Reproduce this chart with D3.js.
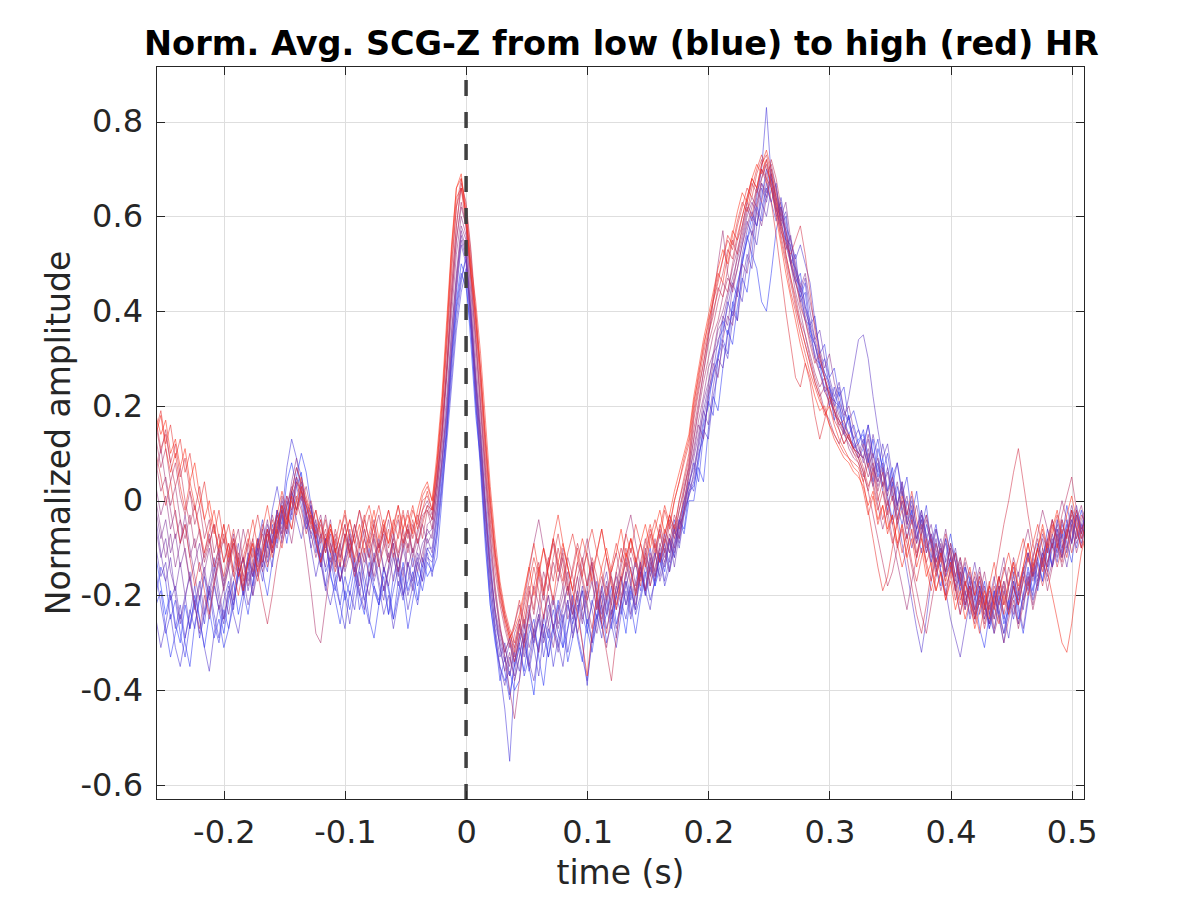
<!DOCTYPE html>
<html>
<head>
<meta charset="utf-8">
<script src="https://cdn.jsdelivr.net/npm/d3@7"></script>
<style>
  html, body { margin: 0; padding: 0; background: #ffffff; }
  svg { display: block; }
  text { font-family: "DejaVu Sans", sans-serif; fill: #262626; }
</style>
</head>
<body>
<svg id="chart" width="1200" height="900"></svg>
<script>
// ---------------- DATA ----------------
// Sample times: first sample and sampling step (s)
const tStart = -0.256;
const tStep = 0.004;
// Amplitudes are stored in hundredths of normalized amplitude
const ampScale = 100;

const trace00 = [-12,-18,-24,-19,-26,-30,-22,-27,-20,-25,-31,-24,-18,-23,-28,-21,-17,-24,-19,-12,-16,-10,-14,-6,-9,-2,-5,4,8,3,6,-3,-1,-9,-14,-8,-16,-19,-13,-21,-17,-12,-20,-24,-15,-19,-22,-14,-18,-25,-20,-13,-19,-15,-21,-12,-16,
 -14,-6,4,16,30,42,50,47,33,18,8,-8,-22,-30,-35,-38,-36,-40,
 -38,-29,-35,-41,-30,-26,-33,-28,-22,-31,-27,-20,-29,-34,-25,-30,-21,-27,-24,-18,-26,-22,-28,-19,-23,-15,-20,-14,-18,-11,-15,-8,-12,-4,-6,2,
 3,8,16,20,27,30,38,35,41,46,50,55,60,58,64,70,66,61,63,55,54,47,45,38,37,30,29,23,24,17,21,14,18,11,13,
 14,8,13,5,9,2,7,-1,4,-5,-2,-8,-4,-11,-7,-13,-10,-16,-12,-19,-15,-22,-18,-25,-21,-17,-24,-28,-20,-26,-23,-18,-25,-20,-14,-19,-12,-17,-9,-14,-6,-11,-4,-9,-2,-7,-3];
const extra00 = [-22,-19,-27,-33,-28,-24,-30,-35,-26,-21,-16,-23,-29,-25,-31,-27,-20,-14,-19,-24,-17,-11,-15,-20,-13,-7,-3,-9,-2,5,10,6,-1,-7,-12,-8,-15,-21,-26,-19,-23,-17,-11,-18,-25,-29,-22,-18,-24,-16,-12,-19,-27,-21,-15,-19,-13,
 -15,-12,0,14,30,41,48,45,36,21,6,-10,-22,-29,-38,-33,-41,-35,
 -31,-36,-28,-25,-33,-39,-30,-27,-21,-26,-34,-29,-24,-19,-27,-32,-25,-22,-30,-26,-20,-24,-17,-22,-28,-21,-16,-12,-18,-14,-9,-15,-10,-4,-7,0,
 0,7,4,15,22,19,28,36,33,41,47,44,52,49,42,40,48,57,62,55,50,46,48,41,36,33,28,30,24,20,23,17,14,16,12,
 15,9,4,11,7,1,-4,3,-2,-8,-3,-6,-11,-5,-9,-14,-18,-12,-7,-13,-19,-23,-16,-20,-27,-31,-24,-19,-25,-30,-22,-17,-23,-28,-21,-15,-19,-12,-8,-14,-10,-4,-9,-13,-6,-2,-7];
const trace01 = [-20,-14,-17,-25,-21,-28,-33,-26,-21,-29,-24,-19,-26,-30,-23,-27,-22,-15,-20,-13,-18,-8,-12,-15,-5,-9,-1,-4,2,-2,1,-6,-3,-11,-7,-15,-12,-18,-22,-16,-20,-14,-23,-19,-13,-18,-21,-16,-24,-19,-14,-20,-17,-12,-18,-14,-10,
 -12,-4,6,14,26,38,46,52,40,26,14,0,-12,-24,-31,-36,-42,-34,
 -30,-37,-33,-27,-32,-24,-29,-23,-28,-31,-22,-26,-19,-24,-28,-21,-25,-18,-23,-27,-20,-16,-22,-17,-13,-19,-14,-10,-16,-12,-7,-11,-4,-8,0,3,
 8,4,14,21,18,30,34,31,42,38,50,56,52,62,59,66,63,67,58,60,50,52,43,46,37,39,31,33,26,28,22,24,17,19,15,
 12,16,9,13,6,10,3,8,1,5,-3,2,-6,-1,-9,-5,-12,-8,-15,-11,-18,-14,-21,-17,-24,-20,-27,-22,-18,-25,-21,-15,-22,-17,-11,-16,-9,-13,-6,-10,-4,-8,-1,-6,-10,-5,-8];
const trace02 = [-15,-22,-28,-24,-31,-35,-29,-23,-27,-20,-26,-18,-24,-29,-21,-17,-23,-14,-19,-11,-16,-9,-4,-10,-2,3,-3,7,13,9,5,-2,-8,-5,-13,-18,-11,-16,-22,-27,-19,-23,-15,-21,-26,-18,-22,-14,-19,-25,-17,-21,-13,-18,-22,-15,-11,
 -16,-8,2,12,24,36,44,49,36,20,9,-6,-20,-28,-36,-44,-55,-38,
 -33,-28,-36,-30,-25,-33,-27,-35,-29,-24,-32,-26,-22,-30,-39,-28,-24,-20,-27,-23,-29,-21,-25,-18,-24,-20,-15,-21,-17,-12,-18,-14,-9,-5,-1,4,
 2,10,13,22,26,31,35,42,39,45,51,55,58,64,70,83,68,60,62,57,51,49,42,44,35,33,29,26,20,24,19,15,18,13,9,
 11,7,3,8,2,-2,4,-1,-5,0,-4,-9,-3,-7,-12,-6,-10,-15,-9,-13,-19,-14,-17,-23,-18,-22,-26,-19,-24,-28,-21,-25,-19,-23,-16,-20,-13,-17,-10,-14,-7,-12,-5,-9,-3,-8,-4];
const extra01 = [-25,-31,-26,-20,-27,-22,-29,-24,-18,-25,-31,-36,-28,-22,-26,-19,-24,-28,-21,-15,-20,-12,-17,-9,-14,-6,-2,-7,1,-4,-8,-3,-10,-16,-11,-18,-22,-17,-13,-20,-26,-19,-14,-21,-17,-12,-18,-24,-20,-27,-21,-16,-23,-18,-13,-17,-12,
 -13,-7,3,15,28,40,47,51,39,25,11,-3,-16,-27,-33,-30,-37,-32,
 -36,-29,-24,-31,-37,-28,-33,-26,-30,-35,-27,-22,-28,-33,-38,-30,-24,-29,-21,-26,-31,-24,-19,-25,-20,-14,-19,-23,-16,-11,-17,-12,-6,-10,-3,1,
 4,9,15,13,22,27,33,30,38,45,42,50,57,54,61,67,63,59,64,58,55,51,54,50,46,38,31,27,25,21,24,19,16,13,15,
 11,16,10,6,12,7,2,-3,-9,-15,-21,-27,-32,-25,-17,-11,-14,-8,-12,-18,-24,-19,-25,-21,-16,-22,-27,-23,-18,-24,-29,-22,-26,-20,-15,-21,-17,-11,-15,-9,-13,-7,-11,-5,-1,-6,-3];
const trace03 = [-10,-16,-13,-21,-18,-25,-20,-27,-22,-17,-24,-19,-14,-21,-25,-18,-22,-16,-12,-19,-14,-8,-13,-6,-10,-3,-7,0,-4,3,-1,-6,-2,-9,-13,-8,-15,-11,-17,-13,-9,-16,-20,-14,-10,-17,-13,-19,-15,-11,-18,-14,-20,-16,-12,-17,-10,
 -10,-2,8,18,32,44,54,50,38,22,10,-4,-17,-26,-30,-34,-30,-35,
 -28,-33,-26,-30,-24,-29,-22,-27,-31,-25,-21,-28,-23,-19,-26,-22,-17,-24,-20,-25,-18,-22,-15,-21,-17,-13,-19,-14,-11,-16,-10,-13,-6,-9,-2,1,
 6,11,17,23,27,34,36,41,46,43,52,57,61,58,66,63,68,64,59,61,53,49,46,41,38,34,30,27,24,21,20,17,22,28,34,
 35,30,22,15,9,12,5,8,2,-3,1,-6,-2,-9,-13,-8,-15,-19,-25,-29,-33,-27,-21,-24,-18,-22,-26,-20,-24,-19,-23,-17,-21,-15,-19,-13,-17,-10,-14,-7,-11,-5,-8,-2,-6,-9,-4];
const extra02 = [-4,-11,-17,-12,-20,-26,-21,-15,-22,-28,-23,-17,-12,-19,-25,-20,-14,-9,-16,-22,-18,-12,-6,-13,-8,-2,-9,-5,2,7,3,-4,-10,-6,-13,-19,-14,-10,-17,-12,-7,-14,-19,-23,-16,-11,-17,-21,-14,-9,-15,-20,-13,-17,-11,-14,-8,
 -11,-3,7,17,31,45,55,51,39,23,8,-7,-19,-28,-35,-39,-33,-37,
 -30,-26,-34,-38,-31,-25,-20,-27,-32,-26,-21,-29,-24,-18,-23,-30,-26,-19,-15,-22,-27,-21,-17,-24,-19,-13,-20,-16,-11,-17,-13,-8,-14,-7,-2,4,
 7,12,19,16,24,30,28,35,40,38,46,52,49,58,63,60,66,62,57,53,56,49,44,47,40,34,36,30,26,22,25,19,17,13,10,
 13,8,14,9,3,7,1,-5,0,-4,-10,-6,-2,-8,-13,-9,-15,-20,-14,-10,-16,-22,-18,-13,-19,-25,-21,-16,-23,-28,-24,-18,-22,-27,-20,-14,-18,-13,-16,-10,-5,-9,-14,-8,-3,-7,-1];
const trace04 = [-6,-12,-8,-15,-19,-13,-20,-16,-23,-18,-14,-21,-17,-12,-19,-24,-17,-13,-20,-15,-10,-16,-11,-5,-9,-2,-6,1,-3,5,2,-3,-7,-4,-10,-14,-9,-13,-17,-12,-8,-15,-11,-16,-20,-13,-9,-14,-18,-12,-16,-10,-15,-19,-13,-9,-7,
 -6,2,11,22,36,47,56,52,37,24,12,-2,-14,-24,-29,-33,-37,-31,
 -26,-31,-35,-28,-24,-30,-26,-21,-27,-23,-18,-25,-21,-26,-19,-23,-28,-22,-17,-24,-20,-16,-22,-18,-23,-15,-19,-13,-17,-11,-14,-9,-12,-5,-3,2,
 5,13,19,24,31,33,39,37,45,49,54,59,56,63,67,64,69,62,58,55,51,46,43,39,35,31,27,24,23,19,17,15,13,12,10,
 9,13,7,4,8,2,5,-1,3,-4,0,-6,-3,-8,-5,-11,-8,-13,-10,-16,-12,-18,-15,-21,-17,-23,-19,-25,-21,-17,-23,-20,-15,-21,-18,-12,-16,-11,-14,-8,-12,-6,-10,-4,-8,-5,-2];
const trace05 = [-2,-8,-4,-11,-7,-14,-10,-17,-13,-9,-16,-20,-15,-11,-18,-14,-21,-16,-12,-17,-13,-9,-14,-7,-11,-4,-8,-1,2,-2,4,0,-5,-8,-4,-11,-7,-13,-9,-15,-11,-7,-14,-10,-16,-12,-8,-15,-11,-17,-12,-8,-14,-10,-15,-11,-6,
 -8,0,9,19,33,46,57,53,40,25,13,-1,-15,-23,-28,-32,-29,-34,
 -29,-25,-31,-27,-22,-28,-24,-20,-26,-22,-18,-24,-20,-25,-21,-17,-23,-19,-24,-20,-16,-21,-18,-14,-20,-16,-12,-18,-14,-10,-13,-8,-11,-6,-2,3,
 9,14,21,25,30,36,38,43,47,51,55,60,63,61,67,65,70,66,60,57,53,48,45,40,37,33,29,26,22,21,18,16,14,11,12,
 8,11,6,9,3,6,0,4,-2,1,-5,-1,-7,-4,-10,-6,-12,-9,-14,-11,-17,-13,-20,-16,-22,-18,-24,-20,-16,-22,-18,-14,-19,-15,-11,-16,-12,-8,-13,-9,-6,-10,-7,-4,-9,-6,-3];
const extra03 = [0,-6,-12,-7,-14,-9,-3,-10,-16,-21,-15,-10,-17,-23,-18,-12,-7,-14,-19,-13,-20,-15,-9,-4,-11,-6,0,-3,4,9,2,-5,-1,-8,-14,-9,-4,-11,-17,-12,-6,-13,-18,-11,-16,-8,-13,-19,-14,-7,-12,-16,-9,-14,-10,-5,-9,
 -7,-1,8,20,35,48,58,55,42,27,14,-2,-14,-23,-31,-36,-32,-38,
 -33,-27,-22,-29,-25,-19,-26,-31,-24,-20,-15,-22,-28,-23,-17,-13,-19,-25,-21,-16,-23,-18,-12,-17,-22,-15,-10,-16,-12,-6,-11,-15,-8,-4,0,6,
 10,16,13,22,29,26,34,39,37,44,50,48,55,61,58,64,69,65,60,63,55,50,45,48,42,37,32,28,31,25,21,18,20,15,11,
 9,14,8,3,6,0,-5,-1,4,-2,-7,-12,-6,-3,-9,-15,-11,-6,-12,-17,-13,-19,-24,-18,-14,-21,-26,-22,-17,-12,-19,-24,-20,-15,-11,-17,-12,-7,-11,-4,-8,-12,-6,-1,-5,-10,-4];
const trace06 = [3,-3,1,-6,-2,-9,-5,-12,-8,-15,-11,-7,-14,-10,-17,-13,-9,-16,-12,-18,-14,-10,-15,-11,-6,-10,-3,-7,1,4,0,3,-2,-6,-3,-9,-13,-8,-12,-7,-11,-15,-10,-6,-12,-16,-11,-7,-13,-9,-15,-10,-6,-12,-8,-13,-5,
 -4,4,14,26,39,52,60,56,44,30,16,3,-10,-20,-27,-31,-35,-28,
 -25,-30,-23,-28,-32,-24,-20,-27,-23,-18,-25,-21,-16,-23,-19,-14,-21,-26,-18,-22,-15,-20,-16,-12,-18,-14,-19,-11,-15,-9,-12,-7,-10,-4,0,5,
 11,17,22,28,31,37,40,44,49,53,57,62,59,65,68,71,67,63,59,54,50,46,42,38,34,30,27,23,21,19,16,14,12,10,9,
 12,7,10,4,7,1,5,-2,2,-5,-1,-8,-4,-10,-7,-13,-9,-15,-12,-18,-14,-20,-17,-23,-19,-25,-21,-27,-22,-18,-24,-20,-26,-21,-16,-22,-17,-12,-17,-13,-8,-12,-7,-3,-8,-4,-1];
const extra04 = [6,11,4,-2,-8,-4,-11,-17,-22,-27,-20,-25,-18,-13,-19,-14,-8,-13,-6,-11,-16,-10,-5,-9,-3,-7,1,-4,-9,-2,3,-3,-7,-12,-8,-3,-9,-14,-10,-5,-11,-7,-2,-8,-12,-7,-13,-9,-4,-10,-15,-9,-5,-11,-6,-2,0,
 -3,5,15,28,42,55,62,58,47,34,20,6,-8,-19,-27,-32,-29,-33,
 -27,-21,-15,-9,-4,-10,-16,-22,-17,-12,-18,-24,-19,-13,-8,-14,-20,-26,-31,-24,-18,-13,-7,-3,-9,-14,-19,-13,-8,-13,-9,-4,-7,-2,3,7,
 13,20,27,34,42,50,57,48,44,49,54,58,62,66,63,69,71,66,61,56,50,44,40,35,30,26,23,19,17,14,12,15,11,9,8,
 5,10,4,-1,-6,-2,-8,-13,-18,-23,-17,-12,-7,-3,-8,-14,-19,-15,-10,-16,-21,-17,-22,-26,-20,-15,-21,-25,-19,-14,-18,-12,-16,-10,-6,-12,-7,-2,-6,-10,-5,0,-4,-9,-4,-1,-6];
const trace07 = [8,2,5,-1,3,-4,-8,-3,-10,-6,-13,-9,-5,-12,-8,-14,-10,-6,-13,-9,-15,-11,-7,-12,-8,-3,-7,-1,3,0,-4,-11,-19,-28,-30,-22,-14,-9,-13,-7,-11,-5,-9,-13,-8,-4,-10,-6,-12,-8,-4,-10,-6,-11,-7,-3,-2,
 -6,2,12,26,42,55,63,58,46,33,19,5,-7,-18,-26,-33,-40,-46,
 -38,-30,-24,-18,-22,-15,-19,-13,-17,-10,-14,-19,-13,-17,-22,-27,-20,-16,-21,-15,-11,-17,-13,-18,-12,-16,-11,-15,-9,-13,-8,-11,-5,-8,-2,6,
 13,19,25,30,35,38,43,47,45,52,56,61,64,62,68,72,68,64,60,52,47,43,38,35,31,27,24,26,22,18,17,14,13,11,10,
 9,5,8,2,6,-1,3,-4,0,-6,-3,-9,-5,-11,-8,-14,-10,-16,-13,-19,-15,-21,-18,-24,-20,-26,-22,-28,-24,-30,-25,-21,-27,-22,-17,-23,-18,-13,-19,-14,-9,-14,-10,-5,-11,-7,-3];
const trace08 = [13,7,11,4,8,1,-3,2,-5,-1,-8,-4,-11,-7,-13,-9,-15,-11,-16,-12,-8,-14,-10,-6,-11,-7,-2,-6,2,5,1,-3,0,-5,-9,-6,-11,-7,-12,-8,-4,-9,-13,-8,-12,-7,-3,-9,-13,-8,-12,-6,-10,-5,-9,-4,-1,
 -4,4,14,28,44,58,66,60,48,35,21,7,-5,-15,-22,-27,-31,-26,
 -22,-27,-19,-24,-16,-21,-13,-8,-14,-18,-12,-16,-21,-15,-11,-17,-23,-18,-12,-16,-20,-14,-10,-15,-19,-13,-8,-12,-16,-10,-6,-9,-3,-6,2,8,
 15,21,27,33,37,42,46,44,50,55,58,63,67,65,70,68,66,61,56,51,46,41,37,33,29,25,22,24,20,17,15,12,14,11,9,
 6,2,-3,-8,-13,-18,-15,-10,-5,-9,-14,-19,-24,-28,-22,-16,-11,-15,-9,-13,-17,-12,-16,-20,-15,-19,-23,-18,-22,-17,-21,-16,-20,-14,-18,-12,-8,-13,-9,-4,-8,-3,1,5,-2,-6,-4];
const extra05 = [16,10,15,8,3,7,0,-5,-1,-7,-12,-8,-14,-10,-5,-11,-16,-12,-18,-13,-9,-15,-21,-26,-20,-13,-8,-3,-6,1,-2,-7,-3,-9,-13,-7,-11,-6,-10,-14,-9,-5,-10,-4,-8,-13,-9,-5,-10,-6,-1,-7,-11,-6,-3,-8,-2,
 -4,4,14,28,45,58,67,63,53,40,27,12,-1,-11,-19,-24,-28,-31,
 -26,-31,-24,-18,-13,-19,-14,-9,-15,-11,-17,-22,-16,-12,-18,-13,-20,-26,-32,-38,-29,-21,-15,-10,-14,-9,-13,-18,-12,-7,-11,-5,-8,-2,2,7,
 17,23,29,35,39,45,43,49,55,52,58,63,60,66,70,67,72,68,62,57,51,47,41,38,33,29,31,26,22,19,16,17,13,11,9,
 6,2,7,1,-4,0,-5,-10,-6,-12,-18,-24,-28,-22,-15,-9,-13,-7,-11,-16,-12,-17,-21,-15,-19,-24,-18,-22,-16,-20,-14,-18,-22,-17,-12,-16,-10,-14,-8,-4,-9,-13,-7,-2,-6,-10,-3];
const trace09 = [17,11,14,8,12,5,9,2,-2,3,-4,-9,-5,-11,-7,-13,-9,-14,-10,-6,-12,-8,-13,-9,-4,-8,-3,1,-2,4,2,-1,-4,-8,-5,-10,-6,-11,-7,-3,-8,-12,-7,-3,-9,-5,-10,-6,-2,-7,-11,-6,-2,-8,-4,0,1,
 -2,6,17,32,48,62,68,62,52,38,25,11,-2,-12,-20,-26,-30,-34,
 -29,-24,-18,-23,-14,-19,-12,-17,-10,-15,-20,-14,-9,-13,-18,-12,-16,-22,-28,-21,-15,-10,-14,-8,-12,-17,-11,-6,-10,-13,-7,-3,-6,0,4,9,
 18,24,29,35,40,44,48,53,51,56,60,64,68,66,71,73,69,63,57,54,52,55,58,52,44,36,30,26,23,20,17,15,13,11,10,
 7,3,6,0,4,-3,1,-5,-2,-8,-4,-11,-7,-13,-10,-16,-12,-18,-15,-21,-17,-23,-19,-25,-21,-27,-22,-17,-11,-5,0,6,11,4,-3,-9,-14,-18,-13,-9,-14,-10,-6,-11,-7,-3,-5];
const extra06 = [10,5,-1,4,-3,-9,-5,-12,-18,-13,-19,-24,-17,-12,-16,-11,-6,-12,-17,-13,-8,-3,-9,-14,-10,-5,-1,-6,2,7,4,-1,-6,-2,-8,-4,-10,-15,-9,-5,-11,-16,-12,-8,-3,-9,-14,-10,-6,-12,-7,-2,-8,-4,-9,-5,-1,
 -2,7,18,33,50,62,66,61,50,37,24,9,-4,-13,-21,-25,-29,-26,
 -21,-26,-20,-14,-19,-25,-18,-12,-7,-13,-19,-15,-10,-16,-21,-15,-11,-6,-12,-18,-23,-17,-12,-8,-13,-18,-12,-7,-11,-5,-9,-3,-6,0,5,10,
 19,25,31,36,42,46,51,55,53,58,62,66,64,69,72,68,63,56,48,40,33,26,24,29,25,18,13,17,22,19,15,12,14,10,8,
 4,8,3,-2,2,-4,-9,-5,-11,-7,-13,-17,-12,-8,-14,-19,-15,-21,-16,-11,-17,-22,-18,-23,-28,-22,-17,-23,-19,-24,-18,-13,-19,-14,-9,-15,-10,-6,-11,-7,-3,-8,-12,-6,-2,-7,-4];
const trace10 = [15,19,12,16,9,13,6,10,3,-1,4,-3,-7,-2,-9,-5,-11,-16,-12,-8,-13,-17,-11,-7,-12,-6,-10,-4,0,-3,2,-1,-5,-2,-7,-11,-6,-9,-4,-8,-12,-7,-2,-6,-10,-5,-1,-6,-9,-4,-8,-3,-7,-2,-5,1,3,
 0,8,20,35,52,64,66,58,48,40,28,14,1,-10,-18,-24,-28,-32,
 -27,-22,-17,-12,-16,-10,-14,-8,-13,-17,-11,-7,-12,-16,-10,-6,-11,-15,-20,-14,-9,-13,-7,-11,-5,-9,-14,-8,-4,-8,-2,-6,0,4,8,12,
 20,27,32,38,42,47,51,56,54,59,63,61,66,70,73,70,67,62,55,50,44,40,35,31,27,24,21,19,16,14,12,10,9,8,7,
 4,-2,-8,-14,-19,-16,-10,-4,1,-3,2,-4,-8,-13,-17,-12,-16,-20,-14,-18,-22,-17,-21,-25,-19,-23,-18,-22,-26,-20,-24,-18,-22,-16,-20,-14,-10,-15,-9,-5,-10,-4,-8,-2,-6,-10,-7];
const extra07 = [14,18,11,6,10,3,-2,4,-1,-6,-11,-6,-2,-8,-13,-9,-15,-20,-14,-9,-4,-10,-6,-1,-7,-3,2,-2,-6,0,5,1,-3,-8,-13,-9,-5,-11,-7,-2,-8,-13,-9,-4,-1,-6,-11,-6,-2,-7,-3,-9,-5,-1,-6,-2,2,
 -2,8,20,36,53,66,68,60,50,42,31,17,3,-8,-17,-23,-27,-30,
 -25,-20,-14,-9,-15,-20,-14,-8,-3,-9,-14,-19,-13,-8,-12,-17,-11,-6,-12,-17,-22,-16,-11,-15,-20,-14,-9,-5,-10,-6,-1,-5,0,4,9,13,
 21,26,33,37,43,48,46,52,57,55,60,64,68,66,71,74,70,64,58,52,47,42,37,33,29,25,22,18,20,16,13,11,9,7,6,
 2,-3,1,-5,-1,-7,-3,-9,-14,-10,-6,-12,-8,-14,-19,-15,-11,-17,-13,-19,-24,-18,-14,-20,-16,-22,-18,-13,-19,-15,-11,-16,-12,-8,-13,-9,-5,-10,-15,-20,-25,-30,-32,-26,-18,-11,-7];
const trace11 = [18,14,17,10,13,7,11,4,8,1,-4,0,-6,-10,-5,-12,-8,-14,-19,-13,-9,-15,-11,-6,-10,-5,-1,-5,1,-2,3,0,-3,-7,-4,-9,-5,-10,-14,-8,-4,-9,-5,-11,-7,-2,-8,-4,-9,-5,-1,-6,-3,-7,-2,2,4,
 0,10,22,38,54,66,69,60,48,38,27,13,0,-11,-19,-25,-29,-27,
 -24,-19,-14,-20,-15,-10,-16,-21,-13,-9,-14,-19,-24,-30,-37,-28,-20,-14,-10,-15,-11,-6,-12,-8,-13,-9,-5,-10,-6,-2,-7,-3,2,6,10,14,
 22,28,34,39,44,49,53,50,56,61,65,63,68,71,69,72,66,60,54,48,43,38,33,29,26,22,19,20,16,13,11,9,8,6,5,
 3,-1,2,-4,-1,-6,-3,-9,-5,-12,-8,-14,-10,-16,-13,-19,-15,-21,-17,-23,-19,-25,-21,-27,-23,-19,-25,-21,-16,-22,-17,-13,-18,-14,-9,-14,-10,-5,-10,-6,-2,-7,-3,1,-4,-8,-5];

// Ordered from lowest HR (blue) to highest HR (red)
const traces = [trace00, extra00, trace01, trace02, extra01, trace03, extra02, trace04,
                trace05, extra03, trace06, extra04, trace07, trace08, extra05, trace09,
                extra06, trace10, extra07, trace11];

const xTicks = [-0.2, -0.1, 0, 0.1, 0.2, 0.3, 0.4, 0.5];
const xTickLabels = ["-0.2", "-0.1", "0", "0.1", "0.2", "0.3", "0.4", "0.5"];
const yTicks = [-0.6, -0.4, -0.2, 0, 0.2, 0.4, 0.6, 0.8];
const yTickLabels = ["-0.6", "-0.4", "-0.2", "0", "0.2", "0.4", "0.6", "0.8"];
const markerTime = 0;

const titleText = "Norm. Avg. SCG-Z from low (blue) to high (red) HR";
const xLabelText = "time (s)";
const yLabelText = "Normalized amplitude";

// ---------------- LAYOUT ----------------
const L = 156, R = 1085, T = 66, B = 800;
const xDomain = [-0.256, 0.511];
const yDomain = [-0.6317, 0.9175];

const svg = d3.select("#chart");
const x = d3.scaleLinear().domain(xDomain).range([L, R]);
const y = d3.scaleLinear().domain(yDomain).range([B, T]);
const color = d3.scaleLinear().domain([0, traces.length - 1])
  .range(["#1f35ff", "#ff2a12"]).interpolate(d3.interpolateRgb);

// grid
const grid = svg.append("g").attr("shape-rendering", "crispEdges");
grid.append("g").attr("transform", `translate(0,${B})`)
  .call(d3.axisBottom(x).tickValues(xTicks).tickSize(-(B - T)).tickFormat(""))
  .call(g => g.select(".domain").remove())
  .call(g => g.selectAll("line").attr("stroke", "#dedede").attr("stroke-width", 1));
grid.append("g").attr("transform", `translate(${L},0)`)
  .call(d3.axisLeft(y).tickValues(yTicks).tickSize(-(R - L)).tickFormat(""))
  .call(g => g.select(".domain").remove())
  .call(g => g.selectAll("line").attr("stroke", "#dedede").attr("stroke-width", 1));

// traces
svg.append("clipPath").attr("id", "plotclip")
  .append("rect").attr("x", L).attr("y", T).attr("width", R - L).attr("height", B - T);

const line = d3.line()
  .x((d, i) => x(tStart + i * tStep))
  .y(d => y(d / ampScale));

svg.append("g").attr("clip-path", "url(#plotclip)")
  .selectAll("path").data(traces).join("path")
  .attr("d", line)
  .attr("fill", "none")
  .attr("stroke", (d, i) => color(i))
  .attr("stroke-opacity", 0.6)
  .attr("stroke-width", 0.9)
  .attr("stroke-linejoin", "bevel");

// dashed marker at t = 0
svg.append("line")
  .attr("x1", x(markerTime)).attr("x2", x(markerTime))
  .attr("y1", T).attr("y2", B)
  .attr("stroke", "#404040").attr("stroke-width", 3.5)
  .attr("stroke-dasharray", "16,16").attr("stroke-dashoffset", 18);

// axes
const axisColor = "#262626";
function styleAxis(g) {
  g.select(".domain").remove();
  g.selectAll("line").attr("stroke", axisColor).attr("stroke-width", 1);
  g.selectAll("text").attr("fill", axisColor)
    .style("font-family", "DejaVu Sans, sans-serif").style("font-size", "32px");
}
const axes = svg.append("g").attr("shape-rendering", "crispEdges");
axes.append("g").attr("transform", `translate(0,${B})`)
  .call(d3.axisBottom(x).tickValues(xTicks).tickSizeInner(-9).tickSizeOuter(0)
    .tickPadding(20).tickFormat((d, i) => xTickLabels[i]))
  .call(styleAxis);
axes.append("g").attr("transform", `translate(0,${T})`)
  .call(d3.axisTop(x).tickValues(xTicks).tickSizeInner(-9).tickSizeOuter(0).tickFormat(""))
  .call(styleAxis);
axes.append("g").attr("transform", `translate(${L},0)`)
  .call(d3.axisLeft(y).tickValues(yTicks).tickSizeInner(-9).tickSizeOuter(0)
    .tickPadding(13).tickFormat((d, i) => yTickLabels[i]))
  .call(styleAxis);
axes.append("g").attr("transform", `translate(${R},0)`)
  .call(d3.axisRight(y).tickValues(yTicks).tickSizeInner(-9).tickSizeOuter(0).tickFormat(""))
  .call(styleAxis);

axes.append("rect")
  .attr("x", L + 0.5).attr("y", T + 0.5)
  .attr("width", R - L - 1).attr("height", B - T - 1)
  .attr("fill", "none").attr("stroke", axisColor).attr("stroke-width", 1);

// labels
svg.append("text")
  .attr("x", (L + R) / 2 + 1).attr("y", 55)
  .attr("text-anchor", "middle")
  .style("font-size", "33.5px").style("font-weight", "bold").style("fill", "#000")
  .text(titleText);

svg.append("text")
  .attr("x", (L + R) / 2).attr("y", 884)
  .attr("text-anchor", "middle")
  .style("font-size", "33px")
  .text(xLabelText);

svg.append("text")
  .attr("transform", `translate(70,${(T + B) / 2}) rotate(-90)`)
  .attr("text-anchor", "middle")
  .style("font-size", "33px")
  .text(yLabelText);
</script>
</body>
</html>
